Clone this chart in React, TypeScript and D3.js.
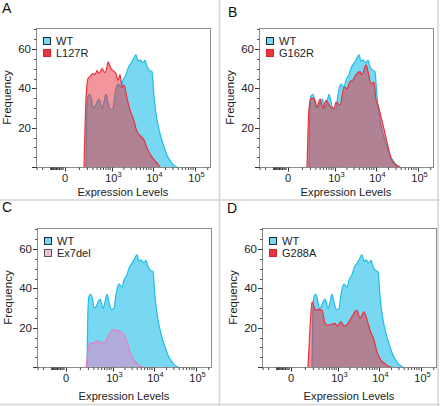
import React from "react";
import * as d3 from "d3";

// ---------- DATA ----------
const wtExpr = [180,195,210,244,282,302,347,396,452,482,547,620,701,791,892,1065,1197,1425,1599,1693,1898,2250,2518,2981,3334,3941,4404,4921,5497,5809,6488,7245,8088,9540,10079,10648,11249,12554,14009,15632,18423,21711,27023,30145,33627,37511];
const wtFreq = [0,30,36,37,33,30,30.5,33,34.6,33.5,29.8,33,37,33,29.3,29.8,37,42.3,41,40.6,44.3,47,50.3,52.8,54.5,57.1,53.7,54.5,53.3,53.1,54.2,51,49.4,48.5,43,35.8,31,24,19,15,10.2,6,2.6,1.2,0.5,0];

const l127rExpr = [153,180,210,244,302,347,396,452,547,659,745,791,946,1065,1269,1425,1599,1793,2009,2380,2818,3334,4166,4921,6140,7245,9540,12554,14798];
const l127rFreq = [0,35,45,46,47.5,47,49,47.6,50,48,51,53.5,50,49,47.6,44,47,40.6,41.7,35,29,25,18,16,13.7,9.6,5,2,0];

const g162rExpr = [153,180,210,262,324,396,482,582,745,946,1065,1345,1693,2009,2380,2818,3334,4166,4655,5809,6488,7655,9029,10079,11249,13262,16512,19460,22936,28538,37511];
const g162rFreq = [0,30,35,34.9,30.7,34.6,29.8,33.9,30.9,29.8,33,31.4,40.7,39.9,43.4,44.3,46.9,48.5,46.9,51.9,48.5,42.4,43,34,31.4,25.6,17,10.3,4.4,1.4,0];

const ex7delExpr = [166,195,227,302,396,514,620,745,946,1065,1269,1425,1693,1898,2250,2664,3152,3941,4655,5497];
const ex7delFreq = [0,8,12,12.3,13.3,12,12.8,15.3,18.7,19,18.4,18.5,17,16.3,12.8,7.7,4.3,1.7,0.4,0];

const g288aExpr = [128,153,180,195,244,302,371,452,547,701,840,946,1197,1425,1793,2250,2664,2981,3525,4404,5201,6140,7655,9029,11249,14009,16512,19460];
const g288aFreq = [0,20,33.2,32,29,29.3,29,22.2,21.3,21.8,22.2,20.8,23,20.8,22.2,25.6,28.1,29,24.7,28.1,23.9,18.7,13.6,7.7,3.4,1.7,0.5,0];

const panelLetters = ["A", "B", "C", "D"];
const mutantNames = ["L127R", "G162R", "Ex7del", "G288A"];
const yMajorTicks = [0, 20, 40, 60];
const yLabelTicks = [20, 40, 60];
const yMinorTicks = [5, 10, 15, 25, 30, 35, 45, 50, 55, 65, 70];
const xMajorTicks = [0, 1e3, 1e4, 1e5];
const xMajorLabels = ["0", "10|3", "10|4", "10|5"];
const xMinorTicks = [
  -300, -200, -100, -90, -80, -70, -60, -50, -40, -30, -20, -10,
  100, 200, 300, 400, 500, 600, 700, 800, 900,
  2000, 3000, 4000, 5000, 6000, 7000, 8000, 9000,
  20000, 30000, 40000, 50000, 60000, 70000, 80000, 90000, 200000,
];

// ---------- STYLE ----------
const FONT = "'Liberation Sans', Arial, Helvetica, sans-serif";
const WT_FILL = "#78d8f1";
const WT_LINE = "#20bde6";
const RED_FILL = "rgba(232,44,54,0.5)";
const RED_LINE = "#e8313c";
const PINK_FILL = "rgba(236,128,200,0.5)";
const PINK_LINE = "#e77cc0";

const series = [
  { expr: l127rExpr, freq: l127rFreq, fill: RED_FILL, line: RED_LINE, sw: "#e8353f", swStroke: "#d02530" },
  { expr: g162rExpr, freq: g162rFreq, fill: RED_FILL, line: RED_LINE, sw: "#e8353f", swStroke: "#d02530" },
  { expr: ex7delExpr, freq: ex7delFreq, fill: PINK_FILL, line: PINK_LINE, sw: "#f2bedd", swStroke: "#555" },
  { expr: g288aExpr, freq: g288aFreq, fill: RED_FILL, line: RED_LINE, sw: "#e8353f", swStroke: "#d02530" },
];

const layout = [
  { left: 36, top: 28, letterX: 2, letterY: 13, xlabOff: 29 },
  { left: 259, top: 28, letterX: 228, letterY: 17, xlabOff: 29 },
  { left: 37, top: 228, letterX: 2, letterY: 212, xlabOff: 33 },
  { left: 262, top: 228, letterX: 227, letterY: 213, xlabOff: 33 },
];
const BOX_W = 174;
const BOX_H = 139;

function Panel({ idx }: { idx: number }) {
  const L = layout[idx];
  const s = series[idx];
  const bottom = L.top + BOX_H;
  const right = L.left + BOX_W;
  const x = d3.scaleSymlog().constant(84).domain([-324, 226600]).range([L.left, right]);
  const y = d3.scaleLinear().domain([0, 70.7]).range([bottom, L.top]);

  const area = d3
    .area<[number, number]>()
    .x((d) => x(d[0]))
    .y0(y(0))
    .y1((d) => y(d[1]))
    .curve(d3.curveMonotoneX);
  const line = d3
    .line<[number, number]>()
    .x((d) => x(d[0]))
    .y((d) => y(d[1]))
    .curve(d3.curveMonotoneX);

  const wt: [number, number][] = wtExpr.map((v, i) => [v, wtFreq[i]]);
  const mu: [number, number][] = s.expr.map((v, i) => [v, s.freq[i]]);

  return (
    <g>
      <text x={L.letterX} y={L.letterY} fontSize={14} fontFamily={FONT} fill="#111">
        {panelLetters[idx]}
      </text>
      <path d={area(wt) || ""} fill={WT_FILL} stroke="none" />
      <path d={line(wt) || ""} fill="none" stroke={WT_LINE} strokeWidth={1.2} />
      <path d={area(mu) || ""} fill={s.fill} stroke="none" />
      <path d={line(mu) || ""} fill="none" stroke={s.line} strokeWidth={1.2} />
      <rect x={L.left + 0.5} y={L.top + 0.5} width={BOX_W} height={BOX_H} fill="none" stroke="#8c8c8c" strokeWidth={1} />
      {/* y ticks */}
      {yMajorTicks.map((t) => (
        <line key={"ym" + t} x1={L.left - 4} x2={L.left + 0.5} y1={Math.round(y(t)) + 0.5} y2={Math.round(y(t)) + 0.5} stroke="#333" strokeWidth={1} />
      ))}
      {yMinorTicks.map((t) => (
        <line key={"yn" + t} x1={L.left - 2} x2={L.left + 0.5} y1={Math.round(y(t)) + 0.5} y2={Math.round(y(t)) + 0.5} stroke="#555" strokeWidth={1} />
      ))}
      {yLabelTicks.map((t) => (
        <text key={"yl" + t} x={L.left - 5} y={y(t) + 4} textAnchor="end" fontSize={11.5} fontFamily={FONT} fill="#222">
          {t}
        </text>
      ))}
      {/* x ticks */}
      {xMajorTicks.map((t) => (
        <line key={"xm" + t} x1={Math.round(x(t)) + 0.5} x2={Math.round(x(t)) + 0.5} y1={bottom + 0.5} y2={bottom + 4.5} stroke="#333" strokeWidth={1} />
      ))}
      {xMinorTicks.map((t) => (
        <line key={"xn" + t} x1={x(t)} x2={x(t)} y1={bottom + 0.5} y2={bottom + 3} stroke="#333" strokeWidth={Math.abs(t) < 100 ? 1.2 : 0.9} />
      ))}
      {xMajorTicks.map((t, i) => {
        const parts = xMajorLabels[i].split("|");
        return (
          <text key={"xl" + t} x={x(t) + (parts.length > 1 ? 1.5 : 0)} y={bottom + 15} textAnchor="middle" fontSize={11} fontFamily={FONT} fill="#222">
            {parts[0]}
            {parts.length > 1 ? (
              <tspan dy={-5} fontSize={7.5}>
                {parts[1]}
              </tspan>
            ) : null}
          </text>
        );
      })}
      <text x={(L.left + right) / 2} y={bottom + L.xlabOff} textAnchor="middle" fontSize={11.2} fontFamily={FONT} fill="#222">
        Expression Levels
      </text>
      <text
        transform={`translate(${L.left - 25},${(L.top + bottom) / 2}) rotate(-90)`}
        textAnchor="middle"
        fontSize={11.5}
        fontFamily={FONT}
        fill="#222"
      >
        Frequency
      </text>
      {/* legend */}
      <rect x={L.left + 7.5} y={L.top + 9.5} width={7} height={7} fill={WT_FILL} stroke="#1a2a3a" strokeWidth={1} />
      <text x={L.left + 20} y={L.top + 16.5} fontSize={11} fontFamily={FONT} fill="#222">
        WT
      </text>
      <rect x={L.left + 7.5} y={L.top + 21.5} width={7} height={7} fill={s.sw} stroke={s.swStroke} strokeWidth={1} />
      <text x={L.left + 20} y={L.top + 29} fontSize={11} fontFamily={FONT} fill="#222">
        {mutantNames[idx]}
      </text>
    </g>
  );
}

export default function App() {
  return (
    <svg
      width={440}
      height={406}
      viewBox="0 0 440 406"
      style={{ position: "absolute", left: 0, top: 0, display: "block", background: "#fff" }}
    >
      <rect x={0} y={0} width={440} height={406} fill="#fff" />
      <line x1={219.5} x2={219.5} y1={0} y2={406} stroke="#d4d4d4" strokeWidth={1.5} />
      <line x1={0} x2={440} y1={200} y2={200} stroke="#d4d4d4" strokeWidth={1.5} />
      <line x1={438} x2={438} y1={0} y2={406} stroke="#d4d4d4" strokeWidth={1.5} />
      <line x1={0} x2={440} y1={404.5} y2={404.5} stroke="#d4d4d4" strokeWidth={1.5} />
      {[0, 1, 2, 3].map((i) => (
        <Panel key={i} idx={i} />
      ))}
    </svg>
  );
}
